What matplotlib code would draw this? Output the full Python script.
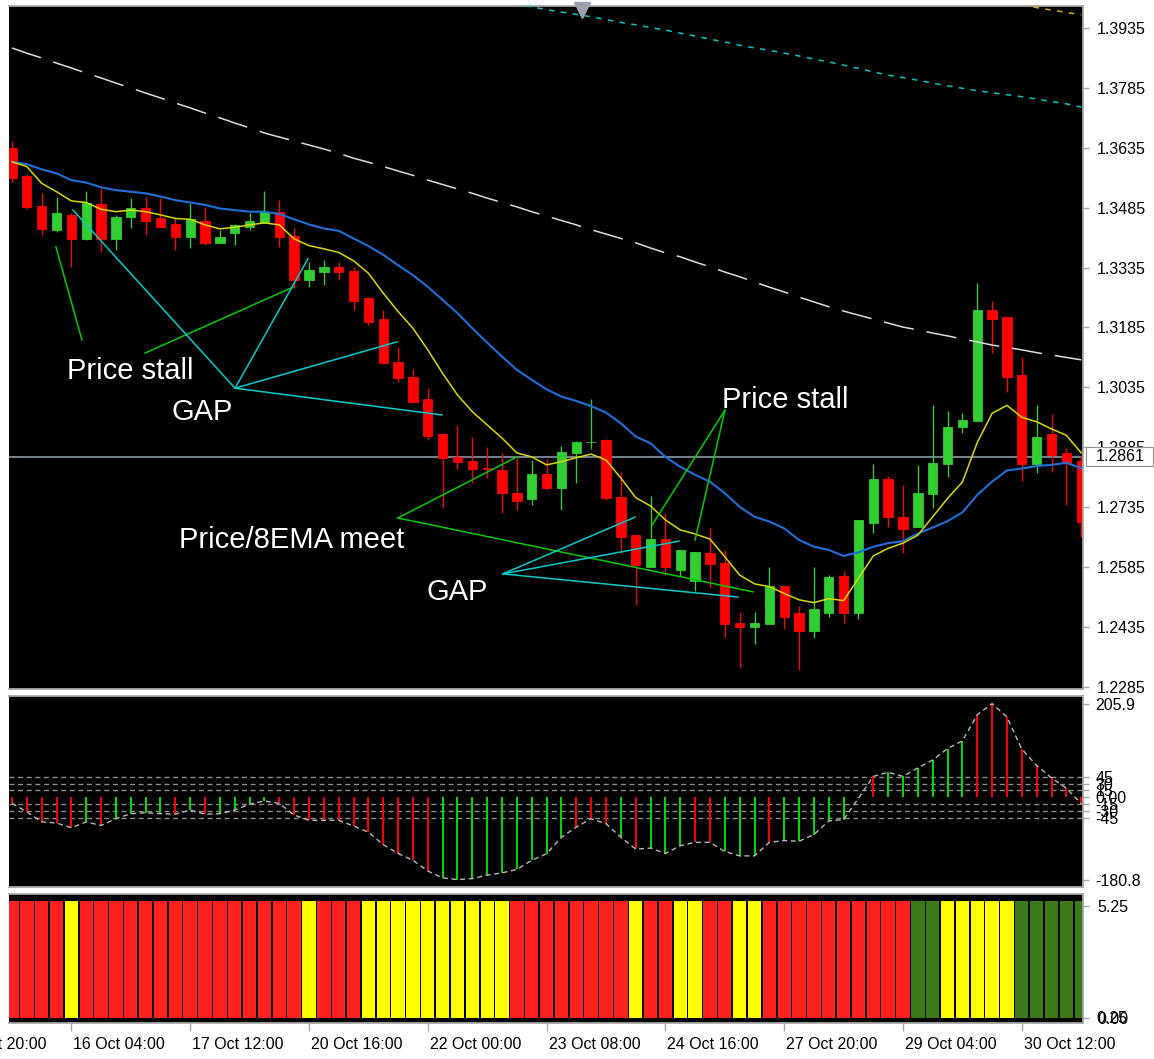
import matplotlib
matplotlib.use("Agg")
import matplotlib.pyplot as plt
import matplotlib.transforms as mtransforms
from matplotlib.patches import Rectangle
import numpy as np

plt.rcParams['font.family'] = ['Liberation Sans', 'DejaVu Sans']

# ------------------------------------------------------------------ data
opens = [1.3634, 1.3564, 1.3489, 1.3429, 1.3467, 1.3407, 1.3494, 1.3407, 1.3462, 1.3485,
         1.3458, 1.3443, 1.3411, 1.3452, 1.3397, 1.3421, 1.3437, 1.3447, 1.3475, 1.3414,
         1.3305, 1.3323, 1.3336, 1.3327, 1.3258, 1.3206, 1.3099, 1.3062, 1.3005, 1.2918,
         1.2860, 1.2851, 1.2832, 1.2828, 1.2771, 1.2755, 1.2818, 1.2782, 1.2871, 1.2897,
         1.2903, 1.2760, 1.2665, 1.2586, 1.2656, 1.2578, 1.2550, 1.2620, 1.2596, 1.2446,
         1.2434, 1.2443, 1.2538, 1.2469, 1.2426, 1.2471, 1.2563, 1.2471, 1.2695, 1.2805,
         1.2711, 1.2686, 1.2768, 1.2843, 1.2937, 1.2951, 1.3229, 1.3211, 1.3066, 1.2843,
         1.2918, 1.2870, 1.2851]
highs = [1.3653, 1.3569, 1.3523, 1.3513, 1.3472, 1.3527, 1.3534, 1.3467, 1.3509, 1.3513,
         1.3509, 1.3460, 1.3496, 1.3486, 1.3429, 1.3444, 1.3472, 1.3528, 1.3504, 1.3434,
         1.3350, 1.3354, 1.3350, 1.3336, 1.3262, 1.3229, 1.3135, 1.3080, 1.3033, 1.2922,
         1.2941, 1.2912, 1.2885, 1.2870, 1.2860, 1.2853, 1.2855, 1.2888, 1.2901, 1.3005,
         1.2906, 1.2824, 1.2665, 1.2763, 1.2721, 1.2628, 1.2624, 1.2684, 1.2628, 1.2473,
         1.2473, 1.2586, 1.2538, 1.2488, 1.2586, 1.2565, 1.2576, 1.2703, 1.2842, 1.2813,
         1.2791, 1.2841, 1.2991, 1.2977, 1.2972, 1.3296, 1.3252, 1.3211, 1.3112, 1.2991,
         1.2968, 1.2882, 1.2866]
lows = [1.3550, 1.3482, 1.3417, 1.3425, 1.3337, 1.3405, 1.3375, 1.3379, 1.3433, 1.3417,
        1.3436, 1.3379, 1.3383, 1.3392, 1.3396, 1.3392, 1.3429, 1.3447, 1.3387, 1.3283,
        1.3286, 1.3291, 1.3304, 1.3229, 1.3191, 1.3093, 1.3048, 1.2997, 1.2903, 1.2732,
        1.2830, 1.2795, 1.2807, 1.2721, 1.2728, 1.2741, 1.2778, 1.2728, 1.2796, 1.2880,
        1.2753, 1.2621, 1.2490, 1.2586, 1.2565, 1.2563, 1.2526, 1.2532, 1.2411, 1.2332,
        1.2392, 1.2443, 1.2429, 1.2327, 1.2407, 1.2461, 1.2444, 1.2454, 1.2670, 1.2686,
        1.2620, 1.2686, 1.2732, 1.2811, 1.2922, 1.2951, 1.3122, 1.3024, 1.2801, 1.2820,
        1.2824, 1.2741, 1.2661]
closes = [1.3560, 1.3486, 1.3431, 1.3471, 1.3407, 1.3496, 1.3407, 1.3462, 1.3483, 1.3452,
          1.3437, 1.3411, 1.3456, 1.3396, 1.3411, 1.3442, 1.3452, 1.3475, 1.3411, 1.3304,
          1.3328, 1.3336, 1.3323, 1.3252, 1.3200, 1.3095, 1.3058, 1.2999, 1.2913, 1.2857,
          1.2849, 1.2830, 1.2830, 1.2770, 1.2751, 1.2818, 1.2782, 1.2874, 1.2899, 1.2898,
          1.2757, 1.2661, 1.2590, 1.2655, 1.2586, 1.2628, 1.2624, 1.2592, 1.2443, 1.2434,
          1.2446, 1.2538, 1.2461, 1.2426, 1.2479, 1.2559, 1.2471, 1.2703, 1.2805, 1.2710,
          1.2680, 1.2771, 1.2846, 1.2935, 1.2953, 1.3229, 1.3206, 1.3062, 1.2843, 1.2912,
          1.2866, 1.2846, 1.2699]

ema8 = [1.3600, 1.3588, 1.3546, 1.3525, 1.3502, 1.3498, 1.3481, 1.3475, 1.3479, 1.3475,
        1.3467, 1.3458, 1.3456, 1.3442, 1.3432, 1.3436, 1.3442, 1.3447, 1.3442, 1.3407,
        1.3390, 1.3382, 1.3373, 1.3352, 1.3321, 1.3271, 1.3225, 1.3183, 1.3129, 1.3070,
        1.3016, 1.2974, 1.2941, 1.2908, 1.2871, 1.2861, 1.2841, 1.2849, 1.2859, 1.2868,
        1.2853, 1.2808, 1.2759, 1.2738, 1.2703, 1.2678, 1.2668, 1.2655, 1.2611, 1.2565,
        1.2543, 1.2536, 1.2519, 1.2503, 1.2496, 1.2506, 1.2501, 1.2557, 1.2613, 1.2632,
        1.2645, 1.2665, 1.2711, 1.2757, 1.2798, 1.2897, 1.2970, 1.2990, 1.2960, 1.2949,
        1.2931, 1.2915, 1.2871]
ema_slow = [1.3600, 1.3594, 1.3581, 1.3571, 1.3554, 1.3548, 1.3536, 1.3529, 1.3525, 1.3521,
            1.3513, 1.3504, 1.3498, 1.3492, 1.3483, 1.3479, 1.3475, 1.3475, 1.3469, 1.3456,
            1.3443, 1.3433, 1.3427, 1.3408, 1.3389, 1.3367, 1.3341, 1.3316, 1.3287, 1.3254,
            1.3221, 1.3183, 1.3147, 1.3112, 1.3079, 1.3054, 1.3030, 1.3012, 1.3001, 1.2988,
            1.2972, 1.2945, 1.2912, 1.2895, 1.2861, 1.2836, 1.2816, 1.2799, 1.2770, 1.2736,
            1.2711, 1.2699, 1.2682, 1.2653, 1.2636, 1.2628, 1.2613, 1.2622, 1.2636, 1.2645,
            1.2650, 1.2669, 1.2684, 1.2700, 1.2722, 1.2766, 1.2799, 1.2827, 1.2832, 1.2838,
            1.2841, 1.2846, 1.2833]
ma_long = [1.3885, 1.3872, 1.3860, 1.3847, 1.3835, 1.3822, 1.3810, 1.3797, 1.3785, 1.3772,
           1.3760, 1.3747, 1.3735, 1.3722, 1.3710, 1.3697, 1.3685, 1.3672, 1.3662, 1.3652,
           1.3642, 1.3632, 1.3621, 1.3609, 1.3599, 1.3588, 1.3577, 1.3566, 1.3554, 1.3543,
           1.3532, 1.3521, 1.3509, 1.3498, 1.3487, 1.3475, 1.3464, 1.3453, 1.3442, 1.3430,
           1.3419, 1.3408, 1.3397, 1.3384, 1.3372, 1.3362, 1.3349, 1.3337, 1.3324, 1.3312,
           1.3299, 1.3286, 1.3274, 1.3261, 1.3249, 1.3237, 1.3226, 1.3216, 1.3206, 1.3196,
           1.3186, 1.3179, 1.3171, 1.3164, 1.3156, 1.3149, 1.3141, 1.3135, 1.3129, 1.3122,
           1.3116, 1.3110, 1.3104]
cyan_start = 33
ma_cyan = [1.4000, 1.3994, 1.3988, 1.3981, 1.3975, 1.3969, 1.3963, 1.3956, 1.3949, 1.3943,
           1.3936, 1.3930, 1.3922, 1.3915, 1.3907, 1.3900, 1.3892, 1.3885, 1.3879, 1.3872,
           1.3865, 1.3857, 1.3850, 1.3842, 1.3834, 1.3825, 1.3817, 1.3811, 1.3804, 1.3797,
           1.3790, 1.3784, 1.3778, 1.3773, 1.3768, 1.3763, 1.3757, 1.3751, 1.3745, 1.3737]
gold_start = 68
ma_gold = [1.3993, 1.3986, 1.3980, 1.3974, 1.3968]

price_line = 1.2861
price_ticks = [1.3935, 1.3785, 1.3635, 1.3485, 1.3335, 1.3185, 1.3035,
               1.2885, 1.2735, 1.2585, 1.2435, 1.2285]

osc = [-13.4, -32, -54, -56.5, -67, -54, -62, -47, -36, -34,
       -36, -37, -28, -37, -36, -28, -15, -8, -13.4, -39,
       -50.6, -50.6, -50.6, -63, -76.6, -104, -123.5, -138.4, -162, -177,
       -180.8, -178.6, -171, -166, -158.5, -138.4, -124, -87.8, -65.5, -47,
       -58, -87.8, -113.8, -111.6, -123.5, -106.4, -99, -99, -119, -128.7,
       -128.7, -99, -95, -96.7, -81.8, -52, -49, -2, 46, 55,
       46, 64.7, 82, 107, 124, 181.5, 205.9, 176.3, 105.7, 70,
       42.4, 20, -14]
osc_color = ("RRRRRGRGGGGRGRGGGGRRRRRRRRRRRGGGGGGGGGRRRGRGGGRRGGGRGGGGGGRGGGGGGRRRRRR")
osc_levels = [45, 30, 15, -15, -30, -45]
osc_max, osc_min = 205.9, -180.8

signal_color = ("RRRRY" + "R" * 15 + "Y" + "RRR" + "Y" * 10 + "R" * 8 + "Y" + "RR" + "YY"
                + "RR" + "YY" + "R" * 10 + "GG" + "Y" * 5 + "G" * 5)
signal_level = 5.5

date_idx = [-4, 4, 12, 20, 28, 36, 44, 52, 60, 68]
date_lbl = ["15 Oct 20:00", "16 Oct 04:00", "17 Oct 12:00", "20 Oct 16:00", "22 Oct 00:00",
            "23 Oct 08:00", "24 Oct 16:00", "27 Oct 20:00", "29 Oct 04:00", "30 Oct 12:00"]

# annotations: (text, bar index, price)
notes = [("Price stall", 3.70, 1.3056), ("GAP", 10.77, 1.2953), ("Price stall", 47.81, 1.2983),
         ("Price/8EMA meet", 11.25, 1.2633), ("GAP", 27.88, 1.2503)]
# annotation lines: (start (idx, price), end (idx, price))
green_lines = [((2.96, 1.3387), (4.71, 1.3154)), ((8.96, 1.3121), (18.92, 1.3286)),
               ((25.99, 1.2708), (34.0, 1.2861)), ((25.99, 1.2708), (49.9, 1.2523)),
               ((48.01, 1.2978), (43.1, 1.2690)), ((48.01, 1.2978), (46.0, 1.2653))]
cyan_lines = [((15.02, 1.3033), (4.11, 1.3479)), ((15.02, 1.3033), (19.93, 1.3357)),
              ((15.02, 1.3033), (25.93, 1.3149)), ((15.02, 1.3033), (28.96, 1.2966)),
              ((33.06, 1.2568), (41.95, 1.2710)), ((33.06, 1.2568), (44.92, 1.2650)),
              ((33.06, 1.2568), (48.89, 1.2510))]

# ------------------------------------------------------------------ figure
W, H = 1154, 1059
fig = plt.figure(figsize=(W / 100, H / 100), dpi=100, facecolor="white")

def axes_px(left, top, right, bottom):
    return fig.add_axes([left / W, 1 - bottom / H, (right - left) / W, (bottom - top) / H])

ax = axes_px(9, 6, 1083, 689)
axm = axes_px(9, 696, 1083, 887)
axb = axes_px(9, 894, 1083, 1023)

n = len(opens)
idx = np.arange(n)
o, h, l, c = map(np.array, (opens, highs, lows, closes))
XL = (-0.2, 72.12)

SP_COL = "#a8a8a8"
for a in (ax, axm, axb):
    a.set_facecolor("black")
    a.set_xlim(*XL)
    a.spines["left"].set_visible(False)
    for s in ("top", "bottom", "right"):
        a.spines[s].set_color(SP_COL)
        a.spines[s].set_linewidth(1.3)
    a.yaxis.tick_right()
    a.tick_params(axis="y", direction="out", length=4, width=1, color=SP_COL,
                  labelcolor="black", labelsize=11.5, pad=6)
    a.tick_params(axis="x", bottom=False, labelbottom=False)

# ---- main price panel
up = c >= o
ccol = np.where(up, "#32cd32", "#ff0000")
ax.vlines(idx, l, h, colors=ccol, lw=0.95, zorder=2)
ax.bar(idx, np.abs(c - o), bottom=np.minimum(o, c), width=0.63, color=ccol,
       edgecolor=ccol, linewidth=0.6, zorder=2)

ax.plot(idx, ma_long, color="#dcdcdc", lw=1.1, ls=(0, (20, 8.5)), zorder=3)
ax.plot(np.arange(cyan_start, cyan_start + len(ma_cyan)), ma_cyan, color="#00c8c8",
        lw=1.1, ls=(0, (3.6, 4.2)), zorder=3)
ax.plot(np.arange(gold_start, gold_start + len(ma_gold)), ma_gold, color="#d4b000",
        lw=1.1, ls=(0, (3.6, 4.2)), zorder=3)
ax.plot(idx, ema_slow, color="#1e6fd9", lw=1.5, zorder=4)
ax.plot(idx, ema8, color="#d8d800", lw=1.1, zorder=5)

ax.axhline(price_line, color="#8898a8", lw=1.2, zorder=1.5)

for (x0, y0), (x1, y1) in green_lines:
    ax.plot([x0, x1], [y0, y1], color="#00cc00", lw=1.1, zorder=6)
for (x0, y0), (x1, y1) in cyan_lines:
    ax.plot([x0, x1], [y0, y1], color="#00cccc", lw=1.1, zorder=6)
for s, xi, yi in notes:
    ax.text(xi, yi, s, color="white", fontsize=21, ha="left", va="baseline", zorder=7)

ax.set_ylim(1.22797, 1.39901)
ax.set_yticks(price_ticks)
ax.set_yticklabels([f"{v:.4f}" for v in price_ticks])

# chart-shift marker at top
ax.plot([38.4], [0.994], marker="v", ms=11, color="#9aa4ae", mec="#9aa4ae",
        transform=ax.get_xaxis_transform(), clip_on=False, zorder=8)

# ---- oscillator panel
ov = np.array(osc)
ocol = ["#00e000" if k == "G" else "#ff0000" for k in osc_color]
axm.vlines(idx, 0, ov, colors=ocol, lw=1.4, zorder=3)
axm.plot(idx, ov, color="#b8b8b8", lw=1.0, ls=(0, (3.6, 2.6)), zorder=4)
for lv in osc_levels:
    axm.axhline(lv, color="#8c8c8c", lw=1.0, ls=(0, (3.6, 2.6)), zorder=2)
axm.set_ylim(-197.1, 222.6)
mt = [osc_max, 45, 30, 15, 0, -15, -30, -45, osc_min]
axm.set_yticks(mt)
axm.set_yticklabels([f"{osc_max:.1f}", "45", "30", "15", "0.00", "-15", "-30", "-45",
                     f"{osc_min:.1f}"])
axm.tick_params(axis="y", pad=5)

# ---- signal bar panel
scol = {"R": "#ff2020", "Y": "#ffff00", "G": "#3a7a18"}
axb.bar(idx, signal_level, bottom=0, width=0.9, color=[scol[k] for k in signal_color],
        zorder=2)
axb.set_ylim(-0.235, 5.83)
axb.set_yticks([5.25, 0.0])
axb.set_yticklabels(["5.25", "0.00"])
axb.text(1.0, 0.0, "0.25", transform=axb.get_yaxis_transform()
         + mtransforms.ScaledTranslation(13 / 100, 0, fig.dpi_scale_trans),
         ha="left", va="center", fontsize=11.5, color="black", clip_on=False)
axb.set_xticks(date_idx[1:])
axb.tick_params(axis="x", bottom=True, direction="out", length=6, width=1, color=SP_COL,
                labelbottom=False)
lbl_tr = axb.get_xaxis_transform() + mtransforms.ScaledTranslation(2 / 100, 0, fig.dpi_scale_trans)
for xi, s in zip(date_idx, date_lbl):
    axb.text(xi, -0.11, s, transform=lbl_tr, ha="left", va="top", fontsize=11.5,
             color="black", clip_on=False)

# ---- current-price label box on the price scale (fixed pixel size, centred on the line)
fig.canvas.draw()
yc = ax.transData.transform((0, price_line))[1]
fig.patches.append(Rectangle((1086 / W, (yc - 9.5) / H), 67 / W, 19 / H,
                             transform=fig.transFigure, facecolor="white",
                             edgecolor="#909090", lw=0.8, zorder=9))
fig.text(1096 / W, yc / H, f"{price_line:.4f}", ha="left", va="center",
         fontsize=11.5, color="black", zorder=10)

fig.savefig("out.png", dpi=100, facecolor="white")
